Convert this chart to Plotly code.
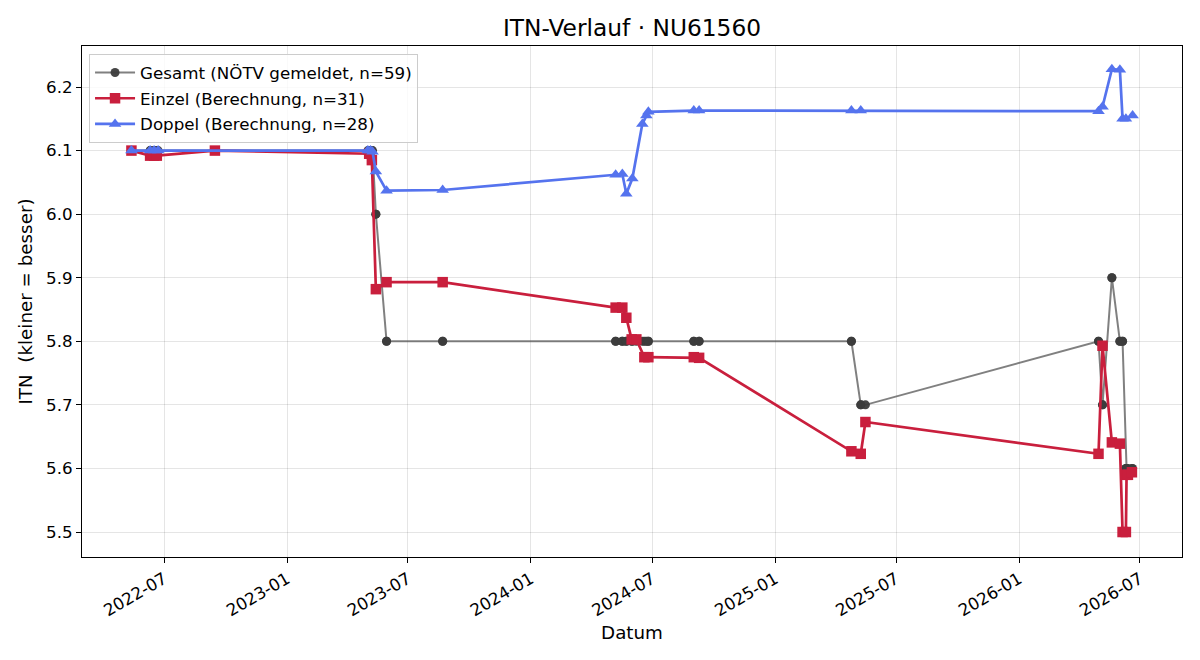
import plotly.graph_objects as go

# Gesamt (NÖTV gemeldet) - all match dates
gesamt_dates = [
    "2022-05-13", "2022-05-13", "2022-06-10", "2022-06-10", "2022-06-16", "2022-06-16",
    "2022-06-20", "2022-06-22", "2022-09-15", "2023-05-02", "2023-05-04", "2023-05-06",
    "2023-05-08", "2023-05-09", "2023-05-14", "2023-05-14", "2023-05-30", "2023-05-30",
    "2023-08-22", "2023-08-22", "2024-05-07", "2024-05-07", "2024-05-17", "2024-05-17",
    "2024-05-23", "2024-05-23", "2024-05-31", "2024-06-01", "2024-06-07", "2024-06-16",
    "2024-06-19", "2024-06-22", "2024-06-25", "2024-06-25", "2024-09-01", "2024-09-01",
    "2024-09-09", "2024-09-09", "2025-04-25", "2025-04-25", "2025-05-09", "2025-05-09",
    "2025-05-16", "2026-04-30", "2026-04-30", "2026-05-06", "2026-05-06", "2026-05-20",
    "2026-05-20", "2026-06-01", "2026-06-01", "2026-06-05", "2026-06-05", "2026-06-10",
    "2026-06-10", "2026-06-11", "2026-06-13", "2026-06-19", "2026-06-20",
]
gesamt_values = [
    6.10, 6.10, 6.10, 6.10, 6.10, 6.10,
    6.10, 6.10, 6.10, 6.10, 6.10, 6.10,
    6.10, 6.10, 6.00, 6.00, 5.80, 5.80,
    5.80, 5.80, 5.80, 5.80, 5.80, 5.80,
    5.80, 5.80, 5.80, 5.80, 5.80, 5.80,
    5.80, 5.80, 5.80, 5.80, 5.80, 5.80,
    5.80, 5.80, 5.80, 5.80, 5.70, 5.70,
    5.70, 5.80, 5.80, 5.70, 5.70, 5.90,
    5.90, 5.80, 5.80, 5.80, 5.80, 5.60,
    5.60, 5.60, 5.60, 5.60, 5.60,
]

# Einzel (Berechnung)
einzel_dates = [
    "2022-05-13", "2022-06-10", "2022-06-16", "2022-06-20", "2022-09-15",
    "2023-05-04", "2023-05-08", "2023-05-14", "2023-05-30", "2023-08-22",
    "2024-05-07", "2024-05-17", "2024-05-23", "2024-05-31", "2024-06-07",
    "2024-06-19", "2024-06-25", "2024-09-01", "2024-09-09", "2025-04-25",
    "2025-05-09", "2025-05-16", "2026-04-30", "2026-05-06", "2026-05-20",
    "2026-06-01", "2026-06-05", "2026-06-10", "2026-06-11", "2026-06-13",
    "2026-06-19",
]
einzel_values = [
    6.100, 6.092, 6.092, 6.092, 6.100,
    6.095, 6.085, 5.882, 5.893, 5.893,
    5.853, 5.853, 5.837, 5.803, 5.803,
    5.775, 5.775, 5.775, 5.774, 5.627,
    5.623, 5.673, 5.623, 5.793, 5.641,
    5.639, 5.500, 5.500, 5.590, 5.590,
    5.594,
]

# Doppel (Berechnung)
doppel_dates = [
    "2022-05-13", "2022-06-10", "2022-06-16", "2022-06-22", "2023-05-02",
    "2023-05-06", "2023-05-09", "2023-05-14", "2023-05-30", "2023-08-22",
    "2024-05-07", "2024-05-17", "2024-05-23", "2024-06-01", "2024-06-16",
    "2024-06-22", "2024-06-25", "2024-09-01", "2024-09-09", "2025-04-25",
    "2025-05-09", "2026-04-30", "2026-05-06", "2026-05-20", "2026-06-01",
    "2026-06-05", "2026-06-10", "2026-06-20",
]
doppel_values = [
    6.100, 6.100, 6.100, 6.100, 6.100,
    6.100, 6.098, 6.067, 6.037, 6.038,
    6.062, 6.063, 6.032, 6.056, 6.142,
    6.155, 6.161, 6.163, 6.163, 6.163,
    6.163, 6.162, 6.169, 6.228, 6.227,
    6.150, 6.150, 6.155,
]

x_tick_vals = ["2022-07-01", "2023-01-01", "2023-07-01", "2024-01-01", "2024-07-01",
               "2025-01-01", "2025-07-01", "2026-01-01", "2026-07-01"]
x_tick_text = ["2022-07", "2023-01", "2023-07", "2024-01", "2024-07",
               "2025-01", "2025-07", "2026-01", "2026-07"]
y_tick_vals = [5.5, 5.6, 5.7, 5.8, 5.9, 6.0, 6.1, 6.2]

FONT = "DejaVu Sans"

fig = go.Figure()
fig.add_trace(go.Scatter(
    x=gesamt_dates, y=gesamt_values, mode="lines+markers",
    name="Gesamt (NÖTV gemeldet, n=59)", legendgroup="g",
    line=dict(color="rgba(85,85,85,0.75)", width=2.0),
    marker=dict(symbol="circle", size=9, color="rgba(60,60,60,0.95)"),
))
fig.add_trace(go.Scatter(
    x=einzel_dates, y=einzel_values, mode="lines+markers",
    name="Einzel (Berechnung, n=31)", legendgroup="e",
    line=dict(color="#c91f3d", width=2.7),
    marker=dict(symbol="square", size=10.5, color="#c91f3d"),
))
fig.add_trace(go.Scatter(
    x=doppel_dates, y=doppel_values, mode="lines+markers",
    name="Doppel (Berechnung, n=28)", legendgroup="d",
    line=dict(color="#5573ee", width=2.7),
    marker=dict(symbol="triangle-up", size=11, color="#5573ee"),
))

fig.update_layout(
    width=1200, height=660,
    margin=dict(l=82, r=18, t=46, b=103),
    paper_bgcolor="white", plot_bgcolor="white",
    font=dict(family=FONT, size=16.7, color="black"),
    title=dict(text="ITN-Verlauf · NU61560", x=0.5, xanchor="center", xref="paper",
               y=1 - 28 / 660, yanchor="middle", yref="container",
               font=dict(size=23.3, family=FONT)),
    showlegend=True,
    legend=dict(x=0.0064, y=0.984, xanchor="left", yanchor="top",
                bgcolor="rgba(255,255,255,0.8)", bordercolor="#cccccc", borderwidth=1,
                font=dict(size=16.7, family=FONT), itemwidth=40,
                tracegroupgap=1),
)
fig.update_xaxes(
    type="date",
    range=["2022-02-28", "2026-09-02"],
    tickvals=x_tick_vals, ticktext=x_tick_text, tickangle=-30,
    showgrid=True, gridcolor="rgba(0,0,0,0.1)", gridwidth=1,
    showline=True, linecolor="black", linewidth=1, mirror=True,
    ticks="outside", ticklen=5, tickcolor="black",
    tickfont=dict(size=16.7),
    title=dict(text="Datum", font=dict(size=18.3), standoff=6),
    zeroline=False,
)
fig.update_yaxes(
    range=[5.4607, 6.2645],
    tickvals=y_tick_vals, tickformat=".1f",
    showgrid=True, gridcolor="rgba(0,0,0,0.1)", gridwidth=1,
    showline=True, linecolor="black", linewidth=1, mirror=True,
    ticks="outside", ticklen=5, tickcolor="black",
    tickfont=dict(size=16.7),
    title=dict(text="ITN  (kleiner = besser)", font=dict(size=18.3), standoff=8),
    zeroline=False,
)

fig.write_html("out.html")
